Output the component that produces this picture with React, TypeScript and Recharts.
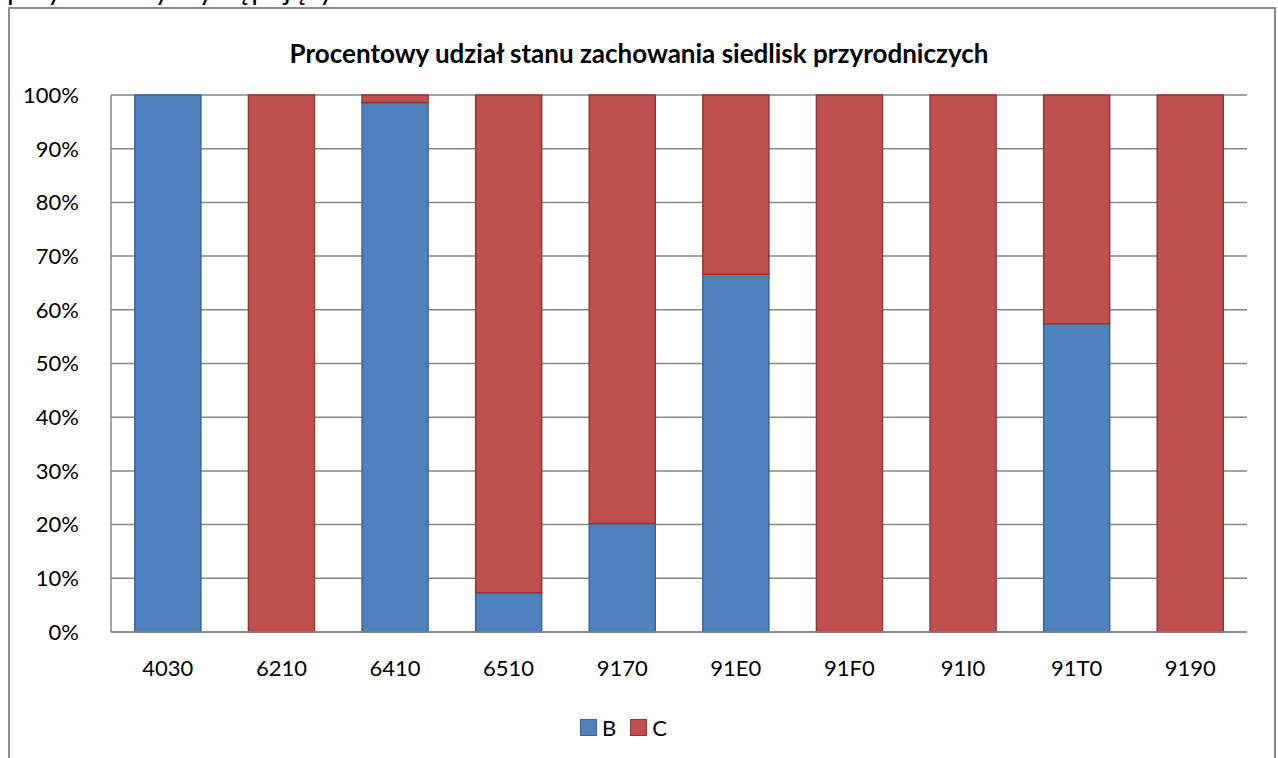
import React from "react";
import { BarChart, Bar, XAxis, YAxis, CartesianGrid, Legend } from "recharts";

const categories = ["4030", "6210", "6410", "6510", "9170", "91E0", "91F0", "91I0", "91T0", "9190"];
const valuesB = [100, 0, 98.6, 7.3, 20.2, 66.6, 0, 0, 57.4, 0];
const valuesC = [0, 100, 1.4, 92.7, 79.8, 33.4, 100, 100, 42.6, 100];
const yTicks = [0, 10, 20, 30, 40, 50, 60, 70, 80, 90, 100];

const chartTitle = "Procentowy udział stanu zachowania siedlisk przyrodniczych";
const clippedLine = "przyrodniczy występujący na terenie";

const FONT = "Lato, 'Open Sans', sans-serif";
const strokes: Record<string, string> = { B: "#3A659B", C: "#943633" };

const data = categories.map((name, i) => ({ name, B: valuesB[i], C: valuesC[i] }));

const renderLegend = (props: any) => {
  const { payload } = props;
  return (
    <div style={{ display: "flex", justifyContent: "center", paddingTop: 10, fontSize: 22, fontFamily: FONT, color: "#000" }}>
      {(payload || []).map((entry: any) => (
        <div key={entry.value} style={{ display: "flex", alignItems: "center", margin: "0 7px" }}>
          <span
            style={{
              display: "inline-block",
              width: 15,
              height: 15,
              background: entry.color,
              border: `1.5px solid ${strokes[entry.value]}`,
              marginRight: 5,
            }}
          />
          <span>{entry.value}</span>
        </div>
      ))}
    </div>
  );
};

export default function App() {
  return (
    <div style={{ position: "absolute", left: 0, top: 0, width: 1278, height: 758, overflow: "hidden", background: "#fff", fontFamily: FONT }}>
      {/* cut-off line of page text above the chart */}
      <svg width={1278} height={10} style={{ position: "absolute", left: 0, top: 0 }}>
        <text x={7} y={0} fontSize={29} fontFamily={FONT} fill="#000">{clippedLine}</text>
      </svg>
      {/* chart frame */}
      <div style={{ position: "absolute", left: 8, top: 7, width: 1264, height: 800, border: "2px solid #8c8c8c" }} />
      <div style={{ position: "absolute", left: 0, top: 37, width: 1278, textAlign: "center", fontWeight: 700, fontSize: 26, color: "#000" }}>
        {chartTitle}
      </div>
      <div style={{ position: "absolute", left: 0, top: 0 }}>
        <BarChart width={1278} height={758} data={data} barCategoryGap="21%" margin={{ top: 95, right: 31, left: 0, bottom: 0 }}>
          <CartesianGrid vertical={false} stroke="#868686" strokeWidth={1.5} />
          <XAxis
            dataKey="name"
            axisLine={{ stroke: "#868686", strokeWidth: 1.5 }}
            tickLine={false}
            tickMargin={22}
            height={72}
            tick={{ fill: "#000", fontSize: 22, fontFamily: FONT }}
          />
          <YAxis
            domain={[0, 100]}
            ticks={yTicks}
            tickFormatter={(v: number) => `${v}%`}
            width={111}
            axisLine={{ stroke: "#868686", strokeWidth: 1.5 }}
            tickLine={false}
            tickMargin={26}
            tick={{ fill: "#000", fontSize: 22, fontFamily: FONT }}
          />
          <Legend verticalAlign="bottom" height={54} content={renderLegend} />
          <Bar dataKey="B" stackId="a" fill="#4F81BD" stroke="#3A659B" strokeWidth={1.5} isAnimationActive={false} />
          <Bar dataKey="C" stackId="a" fill="#C0504D" stroke="#943633" strokeWidth={1.5} isAnimationActive={false} />
        </BarChart>
      </div>
    </div>
  );
}
